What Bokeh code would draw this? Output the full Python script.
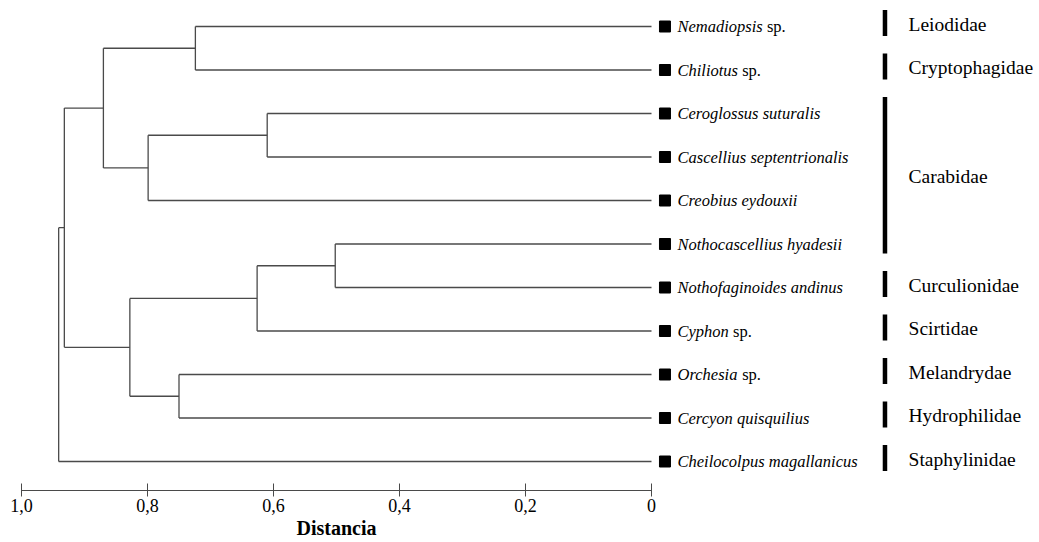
from bokeh.plotting import figure
from bokeh.models import Range1d, LinearAxis, FixedTicker, ColumnDataSource, Title
from bokeh.core.properties import value
from bokeh.embed import file_html
from bokeh.resources import INLINE

# ---------------- data ----------------
species_italic = ["Nemadiopsis", "Chiliotus", "Ceroglossus suturalis",
                  "Cascellius septentrionalis", "Creobius eydouxii",
                  "Nothocascellius hyadesii", "Nothofaginoides andinus",
                  "Cyphon", "Orchesia", "Cercyon quisquilius",
                  "Cheilocolpus  magallanicus"]
species_suffix = ["sp.", "sp.", "", "", "", "", "", "sp.", "sp.", "", ""]

# merges: (node a, node b, distance); leaves are 0..10, new nodes 11, 12, ...
merge_a = [0, 2, 12, 11, 5, 15, 8, 16, 14, 19]
merge_b = [1, 3, 4, 13, 6, 7, 9, 17, 18, 10]
merge_h = [0.724, 0.610, 0.799, 0.870, 0.502, 0.626, 0.750, 0.828, 0.932, 0.941]

family_names = ["Leiodidae", "Cryptophagidae", "Carabidae", "Curculionidae",
                "Scirtidae", "Melandrydae", "Hydrophilidae", "Staphylinidae"]
family_first = [0, 1, 2, 6, 7, 8, 9, 10]
family_last = [0, 1, 5, 6, 7, 8, 9, 10]

ticks = [0, 0.2, 0.4, 0.6, 0.8, 1.0]
tick_labels = ["0", "0,2", "0,4", "0,6", "0,8", "1,0"]
axis_title = "Distancia"

# ---------------- layout constants ----------------
SERIF = "Liberation Serif"
LINE_COL = "#4a4a4a"
SQ_X = -0.0214
TXT_X = -0.0413
BAR_X = -0.3706
FAM_X = -0.408
SPECIES_PX = 16.5
FRAME_H = 490

# Times-like italic advance widths (em) to place the upright "sp." after the genus
ITW = {"N": .667, "e": .444, "m": .722, "a": .5, "d": .5, "i": .278, "o": .5,
       "p": .5, "s": .389, "C": .667, "h": .5, "l": .278, "t": .278, "u": .5,
       "y": .444, "O": .722, "r": .389, "c": .444, "n": .5, " ": .25}


def italic_width(s):
    return sum(ITW.get(ch, .5) for ch in s) * SPECIES_PX


n_leaves = len(species_italic)
node_x = [0.0] * n_leaves
node_y = [float(i) for i in range(n_leaves)]

seg = dict(x0=[], y0=[], x1=[], y1=[])
for a, b, h in zip(merge_a, merge_b, merge_h):
    for c in (a, b):
        seg["x0"].append(node_x[c]); seg["y0"].append(node_y[c])
        seg["x1"].append(h); seg["y1"].append(node_y[c])
    seg["x0"].append(h); seg["y0"].append(node_y[a])
    seg["x1"].append(h); seg["y1"].append(node_y[b])
    node_x.append(h)
    node_y.append((node_y[a] + node_y[b]) / 2)

p = figure(frame_width=1036, frame_height=FRAME_H,
           x_range=Range1d(1.03333, -0.61111),
           y_range=Range1d((FRAME_H - 26) / 43.5, -26 / 43.5),
           output_backend="svg", toolbar_location=None, min_border=0,
           x_axis_location=None, y_axis_location=None)
p.outline_line_color = None
p.grid.visible = False
p.background_fill_color = "white"
p.border_fill_color = "white"

p.segment(x0="x0", y0="y0", x1="x1", y1="y1", source=ColumnDataSource(seg),
          line_color=LINE_COL, line_width=1.3)

leaf_src = ColumnDataSource(dict(
    y=node_y[:n_leaves],
    it=species_italic,
    suf=species_suffix,
    xoff=[italic_width(s) + 0.25 * SPECIES_PX for s in species_italic],
))
p.scatter(x=SQ_X, y="y", source=leaf_src, marker="square", size=11,
          fill_color="black", line_color="black")
p.text(x=TXT_X, y="y", text="it", source=leaf_src, text_font=value(SERIF),
       text_font_style="italic", text_font_size=f"{SPECIES_PX}px",
       text_baseline="middle", text_align="left", text_color="black")
p.text(x=TXT_X, y="y", text="suf", x_offset="xoff", source=leaf_src,
       text_font=value(SERIF), text_font_size=f"{SPECIES_PX}px",
       text_baseline="middle", text_align="left", text_color="black")

fam_src = ColumnDataSource(dict(
    y0=[f - 0.3 - 0.08 for f in family_first],
    y1=[l + 0.3 - 0.08 for l in family_last],
    ym=[(f + l) / 2 - 0.05 for f, l in zip(family_first, family_last)],
    name=family_names,
))
p.segment(x0=BAR_X, y0="y0", x1=BAR_X, y1="y1", source=fam_src,
          line_color="black", line_width=4.5)
p.text(x=FAM_X, y="ym", text="name", source=fam_src, text_font=value(SERIF),
       text_font_size="19.5px", text_baseline="middle", text_align="left",
       text_color="black")

ax = LinearAxis(ticker=FixedTicker(ticks=ticks), bounds=(0, 1),
                major_label_overrides=dict(zip(ticks, tick_labels)))
ax.axis_line_color = LINE_COL
ax.major_tick_line_color = LINE_COL
ax.minor_tick_line_color = None
ax.major_tick_in = 7
ax.major_tick_out = 6
ax.major_label_standoff = 2
ax.major_label_text_font = SERIF
ax.major_label_text_font_size = "18px"
ax.major_label_text_color = "black"
p.add_layout(ax, "below")

# axis title centred under the bounded axis (0..1), i.e. around x = 336 px
p.add_layout(Title(text=axis_title, align="left", offset=296, standoff=0,
                   text_font=SERIF, text_font_size="20px", text_font_style="bold",
                   text_color="black"), "below")

open("out.html", "w").write(file_html(p, INLINE))
